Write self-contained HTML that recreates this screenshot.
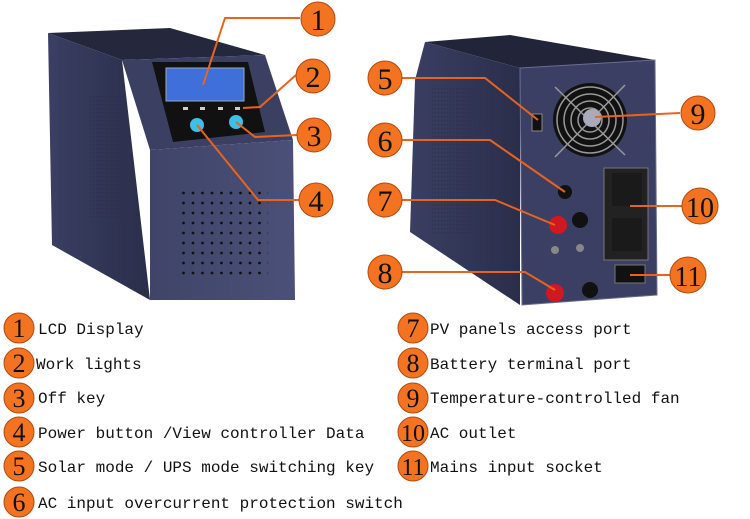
<!DOCTYPE html><html><head><style>body{margin:0;background:#fff}svg{display:block}</style></head><body>
<svg width="750" height="519" viewBox="0 0 750 519" xmlns="http://www.w3.org/2000/svg">
<defs>
<linearGradient id="side" x1="0" x2="1"><stop offset="0" stop-color="#3a3f63"/><stop offset="1" stop-color="#2a2e4a"/></linearGradient>
<linearGradient id="front" x1="0" x2="1"><stop offset="0" stop-color="#3f4468"/><stop offset="1" stop-color="#4b5078"/></linearGradient>
<pattern id="dots" width="9.5" height="10" patternUnits="userSpaceOnUse"><circle cx="3" cy="3" r="1.4" fill="#111"/></pattern>
<pattern id="sd" width="3" height="4" patternUnits="userSpaceOnUse"><rect width="1.2" height="1.5" fill="#2a2d45"/></pattern>
</defs>
<!-- left device -->
<polygon points="48,33 170,28 265,55 122,60" fill="#25283d"/>
<polygon points="48,33 122,60 150,300 52,245" fill="url(#side)"/>
<rect x="88" y="95" width="35" height="125" fill="url(#sd)" opacity="0.7"/>
<polygon points="122,60 265,55 293,140 150,150" fill="#3b4063"/>
<polygon points="150,150 293,140 295,300 150,300" fill="url(#front)"/>
<polygon points="152,62 248,62 265,132 173,142" fill="#111"/>
<rect x="166" y="68" width="78" height="33" fill="#3f6fd8" stroke="#9ab" stroke-width="1"/>
<g fill="#ccc"><rect x="183" y="107" width="5" height="3"/><rect x="200" y="107" width="5" height="3"/><rect x="218" y="107" width="5" height="3"/><rect x="235" y="107" width="5" height="3"/></g>
<circle cx="197" cy="125" r="7" fill="#3cc0e8"/><circle cx="236" cy="122" r="7" fill="#3cc0e8"/>
<rect x="182" y="190" width="86" height="90" fill="url(#dots)"/>
<!-- right device -->
<polygon points="425,42 510,35 655,60 520,68" fill="#22253a"/>
<polygon points="425,42 520,68 520,305 410,232 415,80" fill="url(#side)"/>
<rect x="430" y="85" width="45" height="150" fill="url(#sd)" opacity="0.6"/>
<polygon points="520,68 655,60 657,295 522,305" fill="#3b3f63" stroke="#6a6e90" stroke-width="1"/>
<circle cx="590" cy="120" r="37" fill="#111"/>
<g fill="none" stroke="#999" stroke-width="1.5"><circle cx="590" cy="120" r="33"/><circle cx="590" cy="120" r="26"/><circle cx="590" cy="120" r="19"/><circle cx="590" cy="120" r="12"/><line x1="555" y1="87" x2="625" y2="155"/><line x1="625" y1="85" x2="555" y2="157"/></g>
<circle cx="592" cy="118" r="9" fill="#aab"/>
<rect x="532" y="114" width="10" height="17" fill="#111" stroke="#888"/>
<circle cx="565" cy="192" r="7" fill="#111"/>
<rect x="604" y="168" width="44" height="92" fill="#222" stroke="#777"/>
<rect x="612" y="173" width="30" height="33" fill="#1a1a1a"/><rect x="612" y="218" width="30" height="33" fill="#1a1a1a"/>
<circle cx="558" cy="225" r="9" fill="#d01820"/><circle cx="580" cy="220" r="8" fill="#111"/>
<circle cx="555" cy="293" r="9" fill="#d01820"/><circle cx="590" cy="290" r="8" fill="#111"/>
<circle cx="555" cy="250" r="4" fill="#888"/><circle cx="580" cy="248" r="4" fill="#888"/>
<rect x="615" y="265" width="30" height="18" fill="#111" stroke="#777"/>
<!-- leaders -->
<g stroke="#e8641e" stroke-width="2" fill="none">
<polyline points="203,85 225,18 300,18"/>
<polyline points="243,108 260,107 296,75"/>
<polyline points="236,122 255,137 297,135"/>
<polyline points="197,125 258,200 299,200"/>
<polyline points="402,78 485,78 538,120"/>
<polyline points="402,140 490,140 565,192"/>
<polyline points="402,200 495,200 555,225"/>
<polyline points="402,272 525,272 555,290"/>
<line x1="595" y1="117" x2="680" y2="113"/>
<line x1="630" y1="206" x2="682" y2="206"/>
<line x1="630" y1="275" x2="670" y2="275"/>
</g>
<g fill="#f47321" stroke="#b04a10" stroke-width="1"><circle cx="318" cy="19" r="17"/><circle cx="313" cy="76" r="17"/><circle cx="314" cy="135" r="17"/><circle cx="316" cy="200" r="17"/><circle cx="385" cy="78" r="17"/><circle cx="385" cy="140" r="17"/><circle cx="385" cy="200" r="17"/><circle cx="385" cy="272" r="17"/><circle cx="698" cy="113" r="17"/><circle cx="700" cy="206" r="18"/><circle cx="688" cy="275" r="18"/></g>
<g font-family="Liberation Serif, serif" font-size="30" text-anchor="middle" fill="#111"><text x="318" y="30">1</text><text x="313" y="87">2</text><text x="314" y="146">3</text><text x="316" y="211">4</text><text x="385" y="89">5</text><text x="385" y="151">6</text><text x="385" y="211">7</text><text x="385" y="283">8</text><text x="698" y="124">9</text><text x="700" y="217" font-size="28">10</text><text x="688" y="286" font-size="28">11</text></g>
<!-- legend -->
<g fill="#f47321" stroke="#b04a10" stroke-width="1"><circle cx="19" cy="328" r="15"/><circle cx="19" cy="363" r="15"/><circle cx="19" cy="398" r="15"/><circle cx="19" cy="432" r="15"/><circle cx="19" cy="466" r="15"/><circle cx="19" cy="502" r="15"/><circle cx="413" cy="328" r="15"/><circle cx="413" cy="363" r="15"/><circle cx="413" cy="398" r="15"/><circle cx="413" cy="432" r="15"/><circle cx="413" cy="466" r="15"/></g>
<g font-family="Liberation Serif, serif" font-size="26" text-anchor="middle" fill="#111"><text x="19" y="337">1</text><text x="19" y="372">2</text><text x="19" y="407">3</text><text x="19" y="441">4</text><text x="19" y="475">5</text><text x="19" y="511">6</text><text x="413" y="337">7</text><text x="413" y="372">8</text><text x="413" y="407">9</text><text x="413" y="441" font-size="24">10</text><text x="413" y="475" font-size="24">11</text></g>
<g font-family="Liberation Mono, monospace" font-size="16" fill="#111">
<text x="38" y="334">LCD Display</text><text x="36" y="369">Work lights</text><text x="38" y="403">Off key</text><text x="38" y="438">Power button /View controller Data</text><text x="38" y="472">Solar mode / UPS mode switching key</text><text x="38" y="508">AC input overcurrent protection switch</text>
<text x="430" y="334">PV panels access port</text><text x="430" y="369">Battery terminal port</text><text x="430" y="403">Temperature-controlled fan</text><text x="430" y="438">AC outlet</text><text x="430" y="472">Mains input socket</text>
</g>
</svg></body></html>
